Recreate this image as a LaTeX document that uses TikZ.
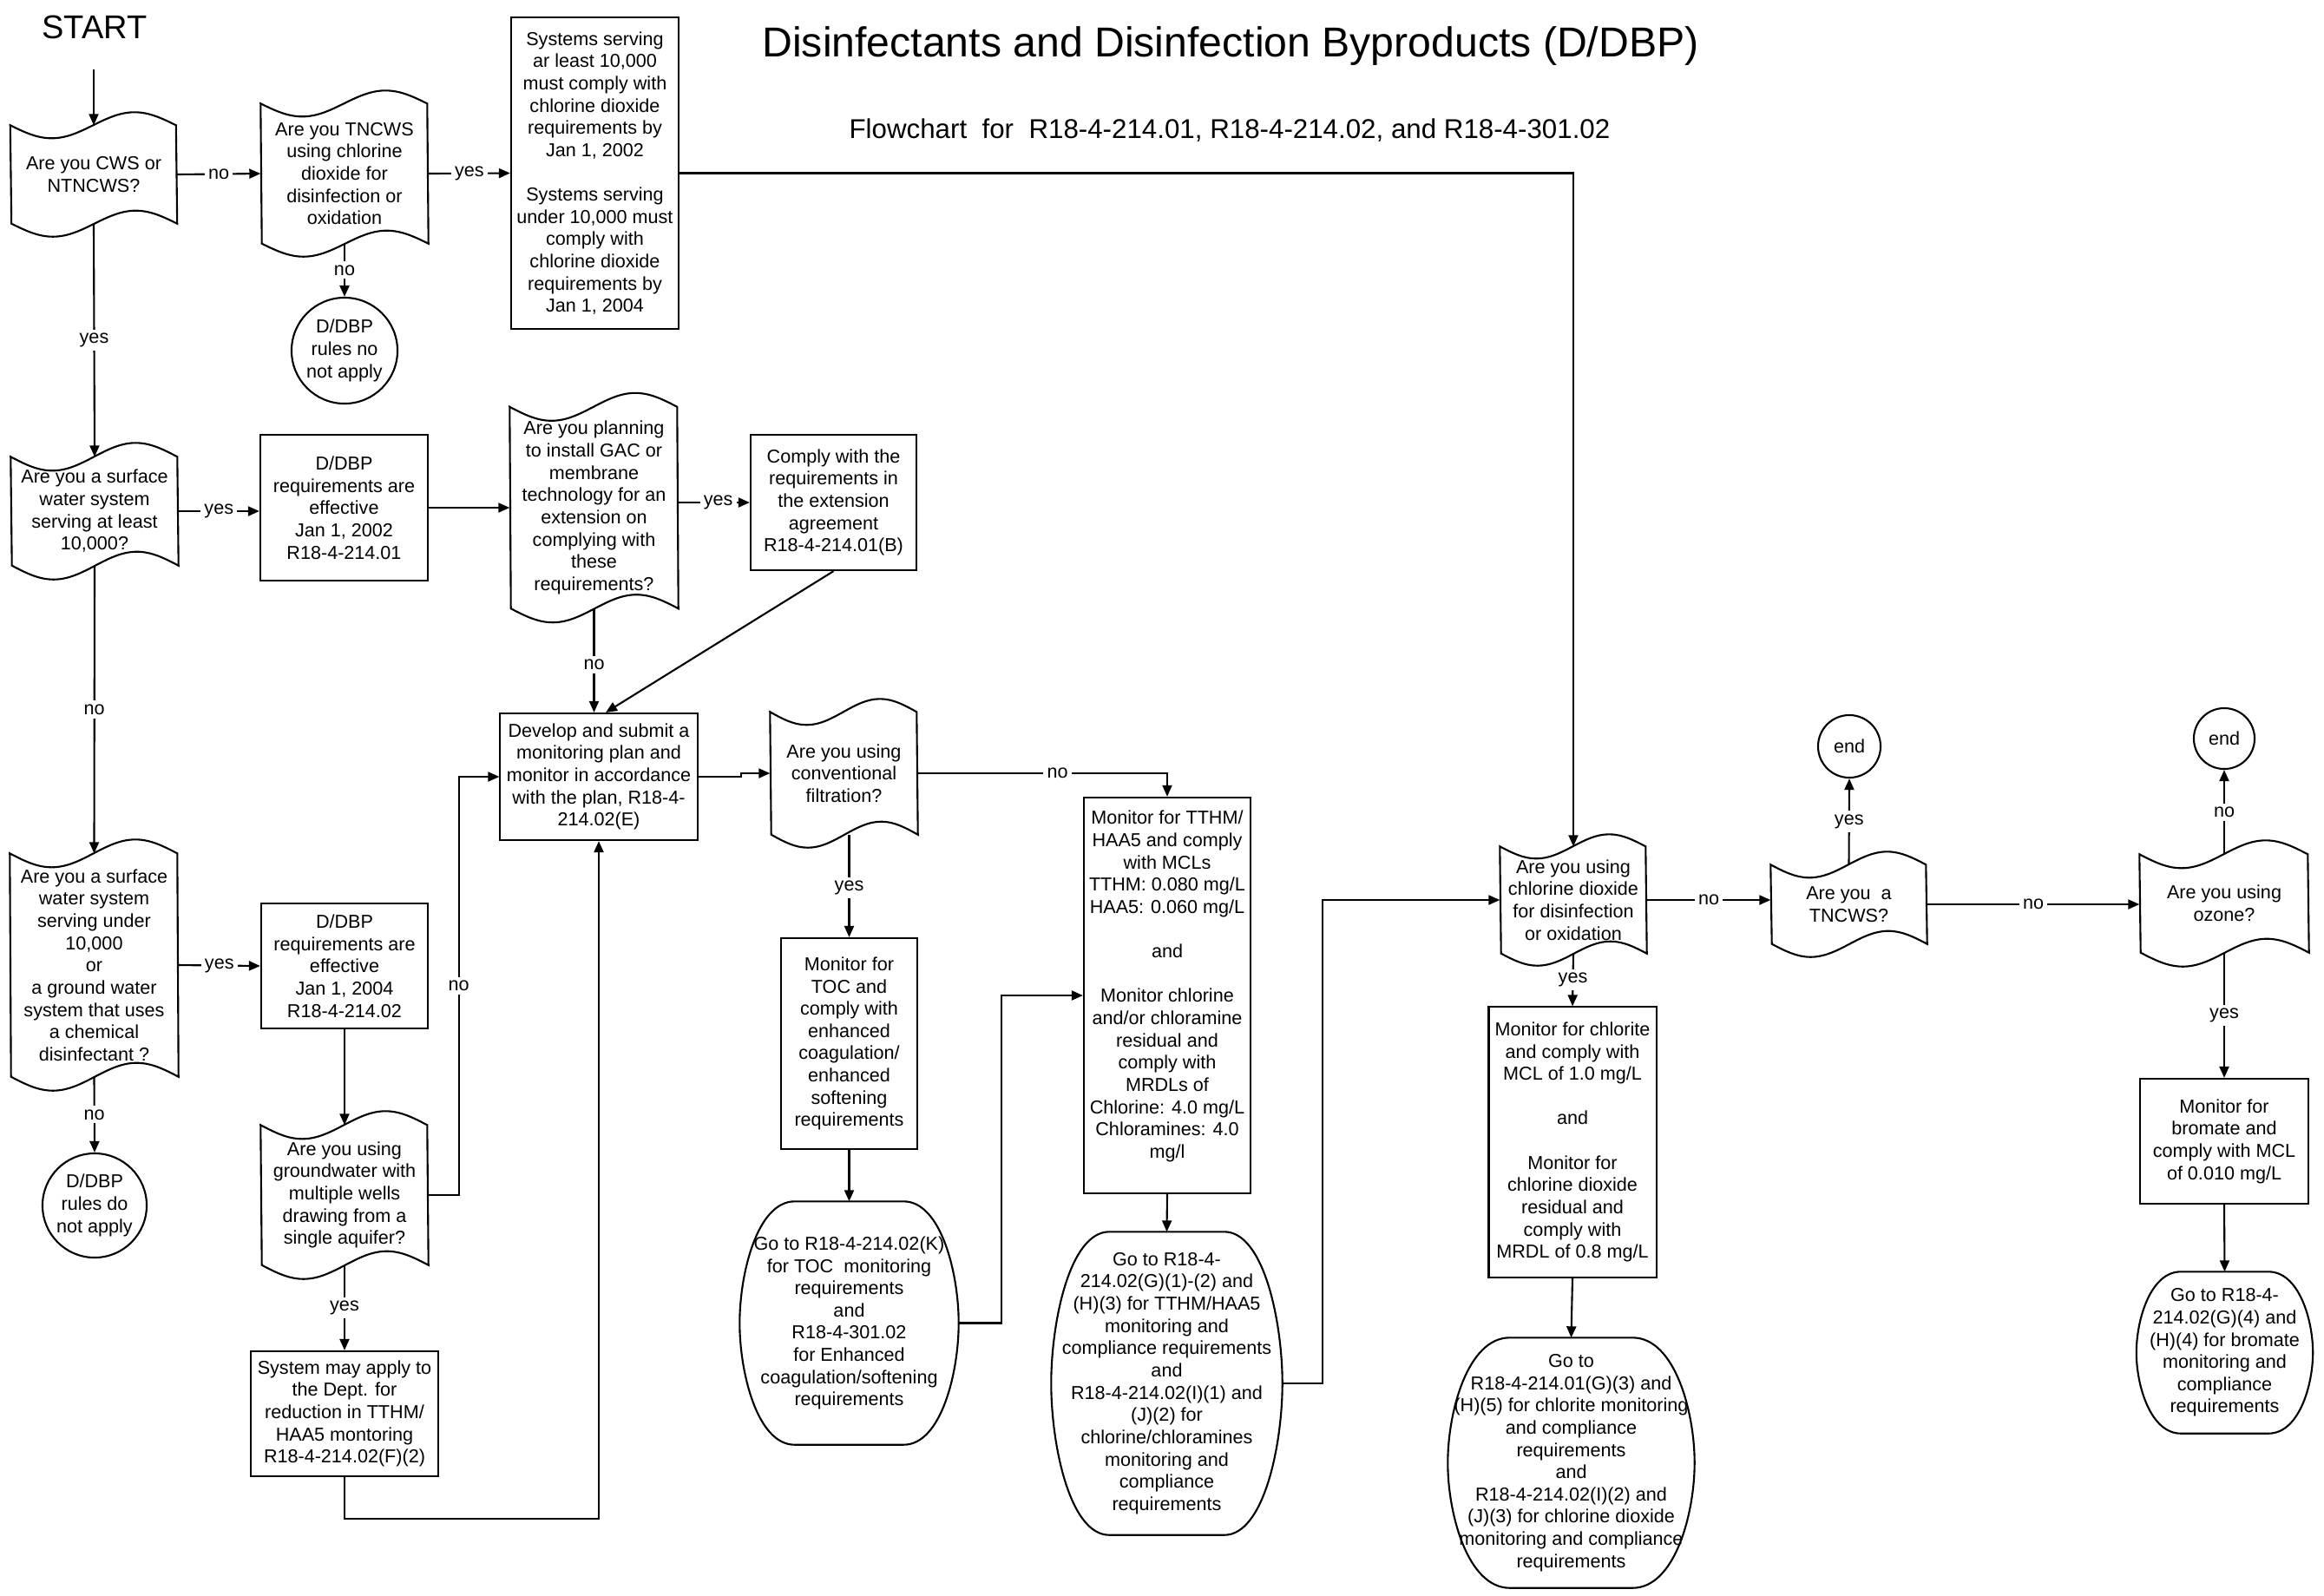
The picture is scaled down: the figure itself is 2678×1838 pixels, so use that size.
\documentclass[tikz,border=0pt]{standalone}
\usepackage{fontspec}
\setmainfont{Liberation Sans}
\usetikzlibrary{arrows.meta,calc}
\newcommand{\bodyfont}{\fontsize{6.14}{7.29}\selectfont}
\tikzset{
  shp/.style={line width=0.6pt, line join=miter},
  box/.style={draw, line width=0.6pt, align=center, inner sep=0pt, font=\bodyfont},
  txt/.style={align=center, inner sep=0pt, font=\bodyfont},
  rnd/.style={draw, circle, line width=0.6pt, align=center, inner sep=0pt, font=\bodyfont},
  arr/.style={line width=0.6pt, -{Triangle[length=0.13cm,width=0.11cm]}},
  con/.style={line width=0.6pt},
  lbl/.style={fill=white, inner sep=1.2pt, font=\bodyfont}
}
% tape: name, cx, cy, w, h, amp, text
\newcommand{\tape}[7]{%
  \node[txt, minimum width={#4*0.01cm}, minimum height={#5*0.01cm}] (#1) at (#2,#3) {#7};
  \draw[shp] (#1.north west) sin ++(#4/4,#6) cos ++(#4/4,-#6) sin ++(#4/4,-#6) cos ++(#4/4,#6)
    -- (#1.south east) sin ++(-#4/4,-#6) cos ++(-#4/4,#6) sin ++(-#4/4,#6) cos ++(-#4/4,-#6) -- cycle;
}
% barrel terminal: name, cx, cy, w, h, text
\newcommand{\barrel}[6]{%
  \node[txt, minimum width={#4*0.01cm}, minimum height={#5*0.01cm}] (#1) at (#2,#3) {#6};
  \draw[shp] ($(#1.north)+(-#4/4,0)$) -- ($(#1.north)+(#4/4,0)$)
    .. controls ($(#1.north east)+(-#4*0.08,0)$) and ($(#1.north east)+(0,#5*0.3)$) .. (#1.east)
    .. controls ($(#1.south east)+(0,-#5*0.3)$) and ($(#1.south east)+(-#4*0.08,0)$) .. ($(#1.south)+(#4/4,0)$)
    -- ($(#1.south)+(-#4/4,0)$)
    .. controls ($(#1.south west)+(#4*0.08,0)$) and ($(#1.south west)+(0,-#5*0.3)$) .. (#1.west)
    .. controls ($(#1.north west)+(0,#5*0.3)$) and ($(#1.north west)+(#4*0.08,0)$) .. cycle;
}
\begin{document}
\begin{tikzpicture}[x=0.01cm,y=-0.01cm]
\useasboundingbox (0,0) rectangle (2678,1838);

% titles
\node[inner sep=0pt, font=\fontsize{10.8}{12}\selectfont] (start) at (109,31) {START};
\node[inner sep=0pt, font=\fontsize{13.7}{16}\selectfont] (title) at (1418,53) {Disinfectants and Disinfection Byproducts (D/DBP)};
\node[inner sep=0pt, font=\fontsize{8.9}{11}\selectfont] (subtitle) at (1417,150) {Flowchart\ \ for\ \ R18-4-214.01, R18-4-214.02, and R18-4-301.02};
\coordinate (s0) at (108,80);

% column 1
\tape{cws}{108}{201}{191}{112}{15}{Are you CWS or\\NTNCWS?}
\tape{surf}{109}{589}{192}{124}{16}{Are you a surface\\water system\\serving at least\\10,000?}
\tape{surf2}{108.5}{1112}{193}{256}{16}{Are you a surface\\water system\\serving under\\10,000\\or\\a ground water\\system that uses\\a chemical\\disinfectant ?}
\node[rnd, minimum size=1.2cm] (c2) at (109,1389) {D/DBP\\rules do\\not apply};

% column 2
\tape{tncws}{397}{200}{192}{160}{15}{Are you TNCWS\\using chlorine\\dioxide for\\disinfection or\\oxidation}
\node[rnd, minimum size=1.22cm] (c1) at (397,404) {D/DBP\\rules no\\not apply};
\node[box, minimum width=1.93cm, minimum height=1.68cm] (box2) at (396.5,585) {D/DBP\\requirements are\\effective\\Jan 1, 2002\\R18-4-214.01};
\node[box, minimum width=1.92cm, minimum height=1.44cm] (box3) at (397,1113) {D/DBP\\requirements are\\effective\\Jan 1, 2004\\R18-4-214.02};
\tape{gw}{397}{1377}{192}{160}{16}{Are you using\\groundwater with\\multiple wells\\drawing from a\\single aquifer?}
\node[box, minimum width=2.16cm, minimum height=1.44cm] (sys) at (397,1629) {System may apply to\\the Dept. for\\reduction in TTHM/\\HAA5 montoring\\R18-4-214.02(F)(2)};

% column 3
\node[box, minimum width=1.93cm, minimum height=3.59cm] (box1) at (685.5,199.5) {Systems serving\\ar least 10,000\\must comply with\\chlorine dioxide\\requirements by\\Jan 1, 2002\\[7.29pt]Systems serving\\under 10,000 must\\comply with\\chlorine dioxide\\requirements by\\Jan 1, 2004};
\tape{plan}{684.5}{585}{193}{231}{16}{Are you planning\\to install GAC or\\membrane\\technology for an\\extension on\\complying with\\these\\requirements?}
\node[box, minimum width=1.91cm, minimum height=1.56cm] (comply) at (960.5,579) {Comply with the\\requirements in\\the extension\\agreement\\R18-4-214.01(B)};
\node[box, minimum width=2.27cm, minimum height=1.46cm] (dev) at (690,895) {Develop and submit a\\monitoring plan and\\monitor in accordance\\with the plan, R18-4-\\214.02(E)};

% column 4
\tape{conv}{972.5}{891}{169}{140}{15}{Are you using\\conventional\\filtration?}
\node[box, minimum width=1.57cm, minimum height=2.43cm] (toc) at (978.5,1202.5) {Monitor for\\TOC and\\comply with\\enhanced\\coagulation/\\enhanced\\softening\\requirements};
\barrel{gotoK}{978.5}{1524.5}{251}{279}{Go to R18-4-214.02(K)\\for TOC\ \ monitoring\\requirements\\and\\R18-4-301.02\\for Enhanced\\coagulation/softening\\requirements}

% column 5
\node[box, minimum width=1.92cm, minimum height=4.56cm] (tthm) at (1345,1147) {Monitor for TTHM/\\HAA5 and comply\\with MCLs\\TTHM: 0.080 mg/L\\HAA5: 0.060 mg/L\\[7.29pt]and\\[7.29pt]Monitor chlorine\\and/or chloramine\\residual and\\comply with\\MRDLs of\\Chlorine: 4.0 mg/L\\Chloramines: 4.0\\mg/l\\\mbox{}};
\barrel{gotoG}{1344.5}{1594}{265}{348}{Go to R18-4-\\214.02(G)(1)-(2) and\\(H)(3) for TTHM/HAA5\\monitoring and\\compliance requirements\\and\\R18-4-214.02(I)(1) and\\(J)(2) for\\chlorine/chloramines\\monitoring and\\compliance\\requirements}

% column 6
\tape{clo2}{1813}{1037}{168}{122}{14}{Are you using\\chlorine dioxide\\for disinfection\\or oxidation}
\node[box, minimum width=1.93cm, minimum height=3.11cm] (chlorite) at (1812,1316) {Monitor for chlorite\\and comply with\\MCL of 1.0 mg/L\\[7.29pt]and\\[7.29pt]Monitor for\\chlorine dioxide\\residual and\\comply with\\MRDL of 0.8 mg/L};
\barrel{gotoCl}{1810.5}{1685.5}{283}{287}{Go to\\R18-4-214.01(G)(3) and\\(H)(5) for chlorite monitoring\\and compliance\\requirements\\and\\R18-4-214.02(I)(2) and\\(J)(3) for chlorine dioxide\\monitoring and compliance\\requirements}

% column 7
\tape{tncws2}{2130.5}{1042}{179}{90}{15}{Are you\ \ a\\TNCWS?}
\node[rnd, minimum size=0.72cm] (end1) at (2131,860) {end};

% column 8
\tape{ozone}{2563}{1041}{194}{112}{16}{Are you using\\ozone?}
\node[rnd, minimum size=0.70cm] (end2) at (2563,851) {end};
\node[box, minimum width=1.94cm, minimum height=1.44cm] (bromate) at (2563,1315) {Monitor for\\bromate and\\comply with MCL\\of 0.010 mg/L};
\barrel{gotoBr}{2563.5}{1558.5}{202}{185}{Go to R18-4-\\214.02(G)(4) and\\(H)(4) for bromate\\monitoring and\\compliance\\requirements}

% connectors
\draw[arr] (s0) -- (cws.north);
\draw[arr] (cws.east) -- node[lbl]{no} (tncws.west);
\draw[arr] (tncws.east) -- node[lbl]{yes} (box1.west);
\draw[arr] (tncws.south) -- node[lbl]{no} (c1.north);
\draw[arr] (cws.south) -- node[lbl]{yes} (surf.north);
\draw[arr] (surf.east) -- node[lbl]{yes} (surf.east -| box2.west);
\draw[arr] (box2.east) -- (plan.west);
\draw[arr] (plan.east |- comply.west) -- node[lbl, pos=0.56]{yes} (comply.west);
\draw[arr] (plan.south) -- node[lbl, pos=0.54]{no} (plan.south |- dev.north);
\draw[arr] (comply.south) -- ([xshift=0.08cm]dev.north);
\draw[arr] (surf.south) -- node[lbl]{no} (surf2.north);
\draw[arr] (surf2.east) -- node[lbl]{yes} (box3.west);
\draw[arr] (surf2.south) -- node[lbl]{no} (c2.north);
\draw[arr] (box3.south) -- (gw.north);
\draw[arr] (gw.east) -- ++(35,0) |- node[lbl, pos=0.25]{no} (dev.west);
\draw[arr] (gw.south) -- node[lbl]{yes} (sys.north);
\draw[arr] (sys.south) -- ++(0,48) -| (dev.south);
\draw[arr] (dev.east) -- ++(49,0) |- (conv.west);
\draw[arr] (conv.east) -| node[lbl, pos=0.28]{no} (tthm.north);
\draw[arr] (conv.south -| toc.north) -- node[lbl, pos=0.52]{yes} (toc.north);
\draw[arr] (toc.south) -- (gotoK.north);
\draw[arr] (gotoK.east) -- ++(49,0) |- (tthm.west);
\draw[arr] (tthm.south) -- (gotoG.north);
\draw[arr] (gotoG.east) -- ++(46,0) |- (clo2.west);
\draw[arr] (box1.east) -| (clo2.north);
\draw[arr] (clo2.east) -- node[lbl]{no} (clo2.east -| tncws2.west);
\draw[arr] (tncws2.north) -- node[lbl]{yes} (end1.south);
\draw[arr] (tncws2.east) -- node[lbl]{no} (tncws2.east -| ozone.west);
\draw[arr] (ozone.north) -- node[lbl]{no} (end2.south);
\draw[arr] (ozone.south) -- node[lbl]{yes} (bromate.north);
\draw[arr] (bromate.south) -- (gotoBr.north);
\draw[arr] (clo2.south) -- node[lbl]{yes} (chlorite.north);
\draw[arr] (chlorite.south) -- (gotoCl.north);
\end{tikzpicture}
\end{document}
